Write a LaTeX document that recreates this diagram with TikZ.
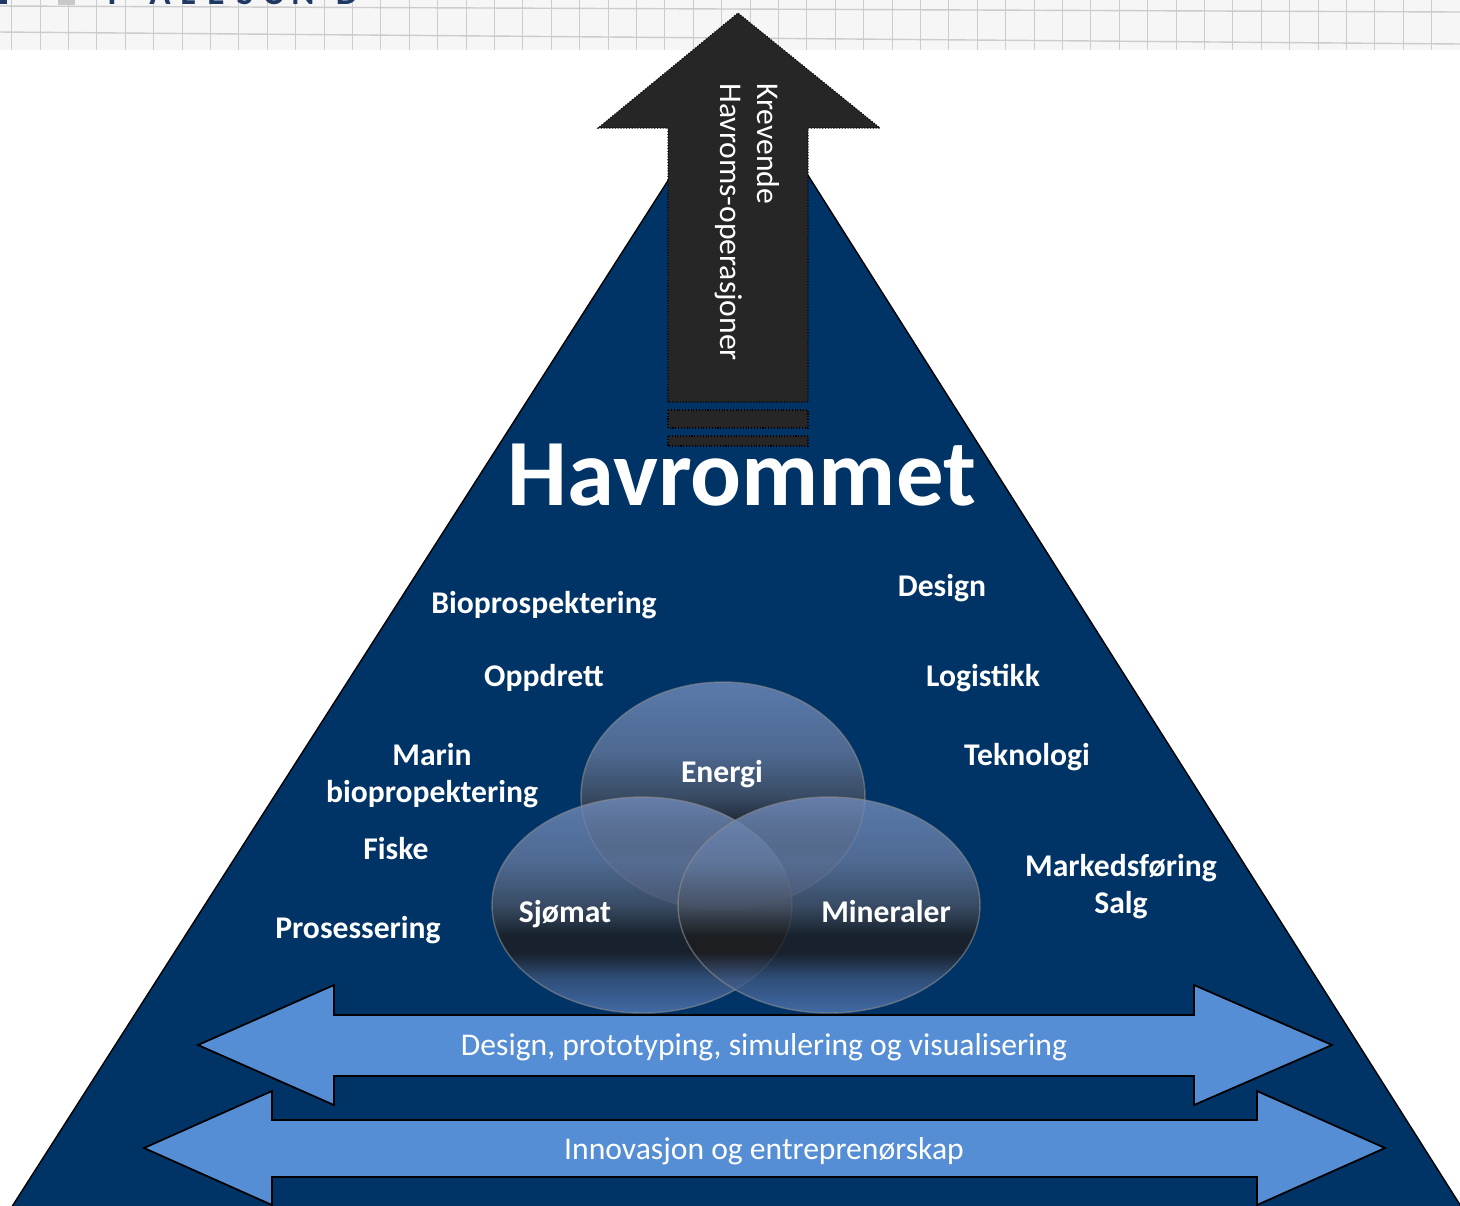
\documentclass[tikz,border=0pt]{standalone}
\usepackage{fontspec}
\setmainfont{Carlito}
\usetikzlibrary{positioning}
\definecolor{ocean}{RGB}{0,51,102}
\definecolor{bandblue}{RGB}{85,142,213}
\definecolor{charcoal}{RGB}{38,38,38}
\definecolor{paper}{RGB}{246,246,246}
\definecolor{gridline}{RGB}{204,204,204}
\definecolor{logoblue}{RGB}{31,56,100}
\definecolor{logogray}{RGB}{200,200,200}
\definecolor{glasstop}{RGB}{112,140,188}
\definecolor{glassupper}{RGB}{98,120,158}
\definecolor{glassmid}{RGB}{72,82,100}
\definecolor{glassdark}{RGB}{30,30,32}
\definecolor{glasslow}{RGB}{60,85,125}
\definecolor{glassbottom}{RGB}{82,120,180}
\pgfdeclareverticalshading{glass}{100bp}{%
	color(0bp)=(glassbottom); color(25bp)=(glassbottom);
	color(33bp)=(glasslow); color(39bp)=(glassdark); color(43bp)=(glassdark);
	color(50bp)=(glassmid); color(60bp)=(glassupper);
	color(75bp)=(glasstop); color(100bp)=(glasstop)}
\tikzset{
	ocean pyramid/.style={
		x=0.02cm, y=-0.02cm, % one unit is one pixel of the slide
		line join=miter
	},
	sea/.style={
		fill=ocean,
		draw=black,
		line width=0.8pt
	},
	rising arrow/.style={
		fill=charcoal,
		draw=black,
		densely dotted,
		line width=0.6pt
	},
	band arrow/.style={
		fill=bandblue,
		draw=black,
		line width=1pt
	},
	bubble/.style={
		shading=glass,
		fill opacity=0.8,
		draw=black!45,
		draw opacity=0.6,
		line width=0.8pt
	},
	sector/.style={
		text=white,
		inner sep=0pt,
		anchor=base,
		font=\fontsize{18}{21.6}\selectfont\bfseries
	},
	band text/.style={
		sector,
		font=\fontsize{18}{21.6}\selectfont
	},
	rising text/.style={
		sector,
		rotate=-90,
		anchor=base west, % text runs downwards
		font=\fontsize{18}{21.6}\selectfont
	},
	title/.style={
		sector,
		font=\fontsize{54}{60}\selectfont\bfseries
	},
	logo letter/.style={
		text=logoblue,
		inner sep=0pt,
		anchor=base,
		font=\fontsize{20}{24}\selectfont\bfseries
	}
}

\begin{document}
\begin{tikzpicture}[ocean pyramid]
	\useasboundingbox (0,0) rectangle (1460,1205);
	\clip (0,0) rectangle (1460,1205);
	% slide header
	\fill[paper] (0,0) rectangle (1460,50);
	\foreach \gx in {0,...,51}
		\draw[gridline,line width=0.6pt] ({11.7+28.4*\gx},0) -- ++(0,50);
	\draw[gridline,line width=0.8pt] (0,6) -- (1460,12);
	\draw[gridline,line width=0.8pt] (0,32) -- (1460,44);
	\fill[logoblue] (0,0) rectangle (7,4);
	\fill[logogray] (58,0) rectangle (75,5);
	\foreach \ch/\lx in {I/112,Å/160,L/188,E/216,S/245,U/274,N/303,D/347}
		\node[logo letter] (logo-\lx) at (\lx,4) {\ch};
	% the pyramid
	\draw[sea] (740,68) -- (-3,1230) -- (1476,1230) -- cycle;
	% upward arrow
	\draw[rising arrow] (668,402) -- (668,128) -- (598,128) -- (738,13)
		-- (880,128) -- (808,128) -- (808,402) -- cycle;
	\draw[rising arrow] (668,410) rectangle (808,428);
	\draw[rising arrow] (668,436) rectangle (808,446);
	\node[rising text] (krevende) at (757,83) {Krevende};
	\node[rising text] (havroms) at (720,83) {Havroms-operasjoner};
	\node[title] (havrommet) at (742,505) {Havrommet};
	% the three bubbles
	\path[bubble] (723,796) ellipse [x radius=2.84cm, y radius=2.28cm];
	\path[bubble] (642,905) ellipse [x radius=3.0cm, y radius=2.16cm];
	\path[bubble] (829,905) ellipse [x radius=3.02cm, y radius=2.16cm];
	\node[sector] (energi) at (722,782) {Energi};
	\node[sector] (sjomat) at (565,922) {Sjømat};
	\node[sector] (mineraler) at (886,922) {Mineraler};
	% left side
	\node[sector] (bioprosp) at (544,613) {Bioprospektering};
	\node[sector] (oppdrett) at (544,686) {Oppdrett};
	\node[sector] (marin) at (432,765) {Marin};
	\node[sector, below=21.6pt of marin.base, anchor=base] (bioprop) {biopropektering};
	\node[sector] (fiske) at (396,859) {Fiske};
	\node[sector] (prosess) at (358,938) {Prosessering};
	% right side
	\node[sector] (design) at (942,596) {Design};
	\node[sector] (logistikk) at (983,686) {Logistikk};
	\node[sector] (teknologi) at (1027,765) {Teknologi};
	\node[sector] (marked) at (1121,876) {Markedsføring};
	\node[sector, below=21.6pt of marked.base, anchor=base] (salg) {Salg};
	% double arrows at the base
	\draw[band arrow] (198,1045) -- (334,985) -- (334,1015) -- (1194,1015)
		-- (1194,985) -- (1332,1045) -- (1194,1105) -- (1194,1076)
		-- (334,1076) -- (334,1105) -- cycle;
	\draw[band arrow] (144,1148) -- (272,1091) -- (272,1120) -- (1257,1120)
		-- (1257,1091) -- (1385,1148) -- (1257,1205) -- (1257,1177)
		-- (272,1177) -- (272,1205) -- cycle;
	\node[band text] (prototyping) at (764,1055) {Design, prototyping, simulering og visualisering};
	\node[band text] (innovasjon) at (764,1159) {Innovasjon og entreprenørskap};
\end{tikzpicture}
\end{document}
